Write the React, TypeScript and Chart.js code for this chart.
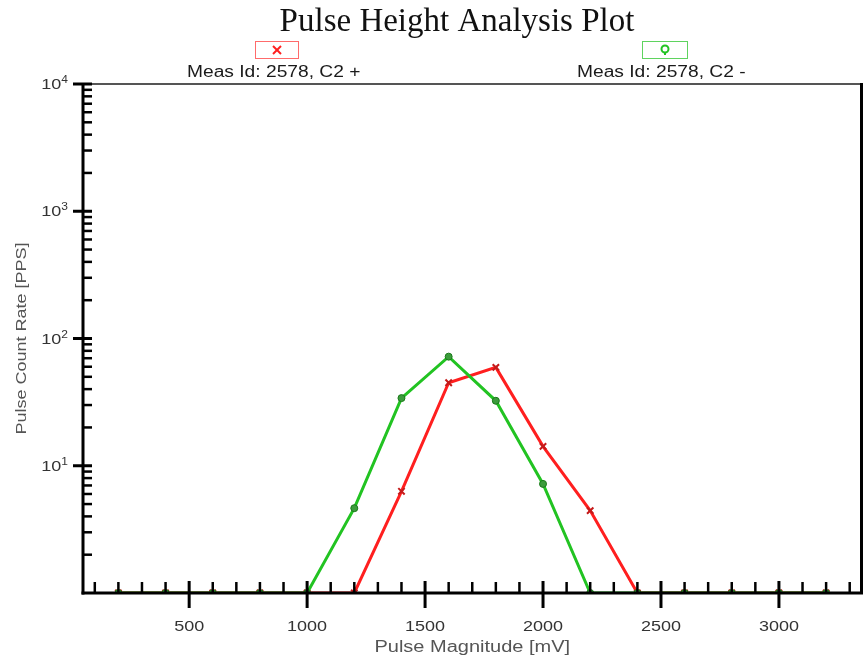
import React, { useEffect, useRef } from 'react';
import { Chart, registerables } from 'chart.js';

Chart.register(...registerables);

// ---- data ----
const pulseMagnitudes = [200, 400, 600, 800, 1000, 1200, 1400, 1600, 1800, 2000, 2200, 2400, 2600, 2800, 3000, 3200];
const c2PlusRates = [0, 0, 0, 0, 0, 0, 6.3, 44.9, 59.3, 14.2, 4.44, 0, 0, 0, 0, 0];
const c2MinusRates = [0, 0, 0, 0, 0, 4.64, 34, 72, 32.4, 7.2, 0, 0, 0, 0, 0, 0];
const xTickValues = [500, 1000, 1500, 2000, 2500, 3000];
const xTickLabels = ['500', '1000', '1500', '2000', '2500', '3000'];
const yDecades = [1, 10, 100, 1000, 10000];
const yDecadeExponents = ['0', '1', '2', '3', '4'];
const seriesLabels = ['Meas Id: 2578, C2 +', 'Meas Id: 2578, C2 -'];
const chartTitle = 'Pulse Height Analysis Plot';
const xAxisTitle = 'Pulse Magnitude [mV]';
const yAxisTitle = 'Pulse Count Rate [PPS]';

const Y_MIN = 1;
const Y_MAX = 10000;
const X_MIN = 50;
const X_MAX = 3350;

const SANS = '"Liberation Sans", Arial, sans-serif';
const SERIF = '"Liberation Serif", "Times New Roman", serif';
const RED = '#ff1f1f';
const GREEN = '#22c322';

function line(ctx: CanvasRenderingContext2D, x1: number, y1: number, x2: number, y2: number) {
  ctx.beginPath();
  ctx.moveTo(x1, y1);
  ctx.lineTo(x2, y2);
  ctx.stroke();
}

function text(
  ctx: CanvasRenderingContext2D,
  s: string,
  x: number,
  y: number,
  font: string,
  color: string,
  align: CanvasTextAlign,
  sx: number,
  rot = 0,
  baseline: CanvasTextBaseline = 'alphabetic'
) {
  ctx.save();
  ctx.translate(x, y);
  if (rot) ctx.rotate(rot);
  ctx.scale(sx, 1);
  ctx.font = font;
  ctx.fillStyle = color;
  ctx.textAlign = align;
  ctx.textBaseline = baseline;
  ctx.fillText(s, 0, 0);
  ctx.restore();
}

const framePlugin = {
  id: 'phaFrame',
  beforeDraw(chart: any) {
    const ctx = chart.ctx as CanvasRenderingContext2D;
    ctx.save();
    ctx.fillStyle = '#ffffff';
    ctx.fillRect(0, 0, chart.width, chart.height);
    ctx.restore();
  },
  afterDatasetsDraw(chart: any) {
    const ctx = chart.ctx as CanvasRenderingContext2D;
    const { left, right, top, bottom } = chart.chartArea;
    const xs = chart.scales.x;
    const ys = chart.scales.y;
    ctx.save();
    ctx.lineCap = 'butt';
    // frame
    ctx.strokeStyle = '#555555';
    ctx.lineWidth = 2;
    line(ctx, left, top, right, top);
    ctx.strokeStyle = '#000000';
    ctx.lineWidth = 3;
    line(ctx, right, top - 1, right, bottom);
    line(ctx, left, top - 1, left, bottom + 1.5);
    line(ctx, left - 1.5, bottom, right + 1.5, bottom);

    // y minor ticks
    ctx.lineWidth = 2.5;
    for (let i = 0; i < yDecades.length - 1; i++) {
      for (let k = 2; k <= 9; k++) {
        const py = ys.getPixelForValue(yDecades[i] * k);
        line(ctx, left, py, left + 9, py);
      }
    }
    // y major ticks
    ctx.lineWidth = 3;
    for (let i = 1; i < yDecades.length; i++) {
      const py = ys.getPixelForValue(yDecades[i]);
      line(ctx, left - 10, py, left + 9, py);
    }
    // x ticks
    for (let v = 100; v <= 3300; v += 100) {
      const px = xs.getPixelForValue(v);
      if (v % 500 === 0) {
        ctx.lineWidth = 3;
        line(ctx, px, bottom - 12, px, bottom + 15);
      } else {
        ctx.lineWidth = 2.5;
        line(ctx, px, bottom - 11, px, bottom);
      }
    }

    // x labels
    xTickValues.forEach((v, i) => {
      const px = xs.getPixelForValue(v);
      text(ctx, xTickLabels[i], px, 631, `15px ${SANS}`, '#333333', 'center', 1.2);
    });

    // y labels with superscript exponents
    for (let i = 1; i < yDecades.length; i++) {
      const py = ys.getPixelForValue(yDecades[i]);
      ctx.font = `10px ${SANS}`;
      const ew = ctx.measureText(yDecadeExponents[i]).width * 1.2;
      text(ctx, yDecadeExponents[i], 68, py - 1, `10px ${SANS}`, '#333333', 'right', 1.2);
      text(ctx, '10', 68 - ew, py + 5, `15px ${SANS}`, '#333333', 'right', 1.2);
    }
    ctx.restore();
  },
  afterDraw(chart: any) {
    const ctx = chart.ctx as CanvasRenderingContext2D;
    const { left, right, top, bottom } = chart.chartArea;
    ctx.save();
    // title
    text(ctx, chartTitle, 457, 31, `33px ${SERIF}`, '#111111', 'center', 1);

    // legend
    text(ctx, seriesLabels[0], 187, 77, `16px ${SANS}`, '#1a1a1a', 'left', 1.2);
    text(ctx, seriesLabels[1], 577, 77, `16px ${SANS}`, '#1a1a1a', 'left', 1.2);

    ctx.lineWidth = 1;
    ctx.strokeStyle = '#ff6b6b';
    ctx.strokeRect(255.5, 41.5, 43, 17);
    ctx.strokeStyle = RED;
    ctx.lineWidth = 2;
    line(ctx, 273, 46, 281, 54);
    line(ctx, 281, 46, 273, 54);

    ctx.lineWidth = 1;
    ctx.strokeStyle = '#5fd35f';
    ctx.strokeRect(642.5, 41.5, 45, 17);
    ctx.strokeStyle = GREEN;
    ctx.lineWidth = 2;
    ctx.beginPath();
    ctx.arc(665, 49, 3.5, 0, Math.PI * 2);
    ctx.stroke();
    line(ctx, 665, 52.5, 665, 55);

    // axis titles
    text(ctx, xAxisTitle, (left + right) / 2, 648, `16px ${SANS}`, '#555555', 'center', 1.25, 0, 'middle');
    text(ctx, yAxisTitle, 22, (top + bottom) / 2, `15px ${SANS}`, '#555555', 'center', 1.2, -Math.PI / 2, 'middle');
    ctx.restore();
  },
};

export default function App() {
  const canvasRef = useRef<HTMLCanvasElement | null>(null);

  useEffect(() => {
    if (!canvasRef.current) return;
    // zero counts sit on the axis floor of the log scale
    const toPoints = (rates: number[]) => pulseMagnitudes.map((x, i) => ({ x, y: Math.max(rates[i], Y_MIN) }));
    const chart = new Chart(canvasRef.current, {
      type: 'line',
      data: {
        datasets: [
          {
            label: seriesLabels[1],
            data: toPoints(c2MinusRates),
            borderColor: GREEN,
            borderWidth: 3,
            pointStyle: 'circle',
            pointRadius: 3.5,
            pointBorderWidth: 1,
            pointBorderColor: '#1a7a1a',
            pointBackgroundColor: '#3c9c3c',
            fill: false,
            tension: 0,
            order: 0,
          },
          {
            label: seriesLabels[0],
            data: toPoints(c2PlusRates),
            borderColor: RED,
            borderWidth: 3,
            pointStyle: 'crossRot',
            pointRadius: 4.5,
            pointBorderWidth: 2,
            pointBorderColor: '#c41a1a',
            pointBackgroundColor: RED,
            fill: false,
            tension: 0,
            order: 1,
          },
        ],
      },
      options: {
        responsive: false,
        maintainAspectRatio: false,
        animation: false,
        events: [],
        layout: { padding: { left: 0, right: 6, top: 84, bottom: 0 } },
        plugins: {
          legend: { display: false },
          title: { display: false },
          tooltip: { enabled: false },
        },
        scales: {
          x: {
            type: 'linear',
            min: X_MIN,
            max: X_MAX,
            afterBuildTicks: (s: any) => {
              s.ticks = xTickValues.map((v) => ({ value: v }));
            },
            afterFit: (s: any) => {
              s.height = 67;
            },
            grid: { display: false, drawTicks: false },
            border: { display: false },
            ticks: { display: false },
          },
          y: {
            type: 'logarithmic',
            min: Y_MIN,
            max: Y_MAX,
            afterFit: (s: any) => {
              s.width = 83;
            },
            grid: { display: false, drawTicks: false },
            border: { display: false },
            ticks: { display: false },
          },
        },
      },
      plugins: [framePlugin],
    } as any);
    return () => chart.destroy();
  }, []);

  return (
    <div style={{ position: 'fixed', left: 0, top: 0, width: 868, height: 660, background: '#fff' }}>
      <canvas ref={canvasRef} width={868} height={660} style={{ display: 'block' }} />
    </div>
  );
}
